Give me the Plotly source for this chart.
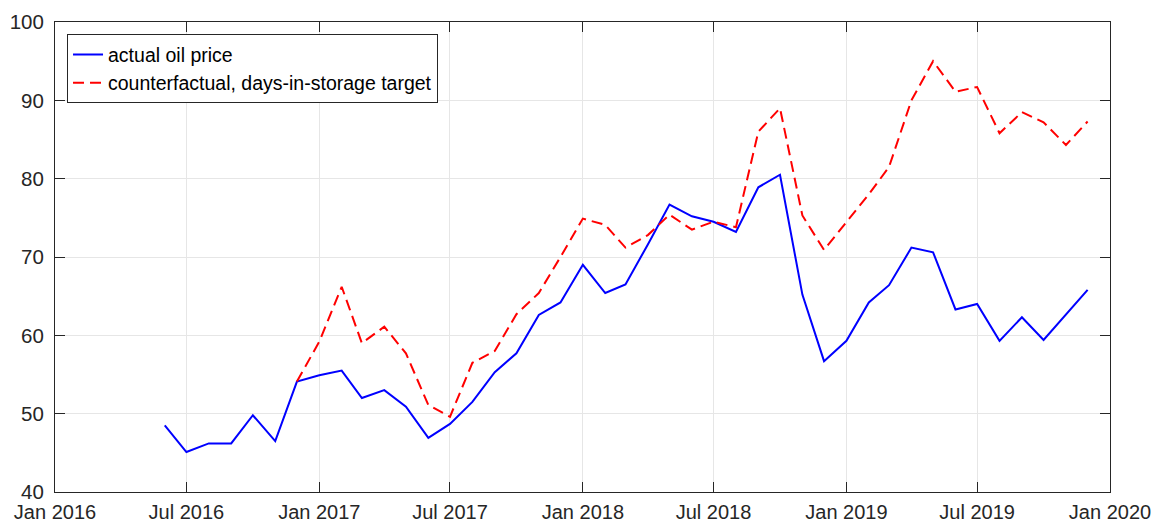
import plotly.graph_objects as go
import pandas as pd

actual_dates = pd.date_range("2016-06-01", "2019-12-01", freq="MS")
actual_price = [48.5, 45.1, 46.2, 46.2, 49.8, 46.5, 54.1,
                54.9, 55.5, 52.0, 53.0, 50.9, 46.9, 48.7, 51.5, 55.3, 57.7, 62.6, 64.2,
                69.0, 65.4, 66.5, 71.6, 76.7, 75.2, 74.5, 73.2, 78.9, 80.5, 65.2, 56.7,
                59.3, 64.2, 66.4, 71.2, 70.6, 63.3, 64.0, 59.3, 62.3, 59.4, 62.6, 65.8]

cf_dates = pd.date_range("2016-12-01", "2019-12-01", freq="MS")
cf_price = [54.1,
            59.2, 66.2, 59.0, 61.1, 57.7, 51.1, 49.6, 56.5, 58.0, 62.7, 65.4, 70.0,
            74.9, 74.1, 71.2, 72.8, 75.4, 73.5, 74.5, 73.8, 86.0, 89.0, 75.3, 70.9,
            74.5, 78.0, 81.5, 90.0, 95.0, 91.1, 91.7, 85.8, 88.5, 87.2, 84.3, 87.3]

tick_vals = pd.date_range("2016-01-01", "2020-01-01", freq="6MS")
tick_text = [d.strftime("%b %Y") for d in tick_vals]

FONT = "Liberation Sans, Arial, Helvetica, sans-serif"

fig = go.Figure()
fig.add_trace(go.Scatter(x=actual_dates, y=actual_price, mode="lines",
                         name="actual oil price",
                         line=dict(color="#0000ff", width=2)))
fig.add_trace(go.Scatter(x=cf_dates, y=cf_price, mode="lines",
                         name="counterfactual, days-in-storage target",
                         line=dict(color="#ff0000", width=2, dash="11px,6px")))

axis_common = dict(showline=True, linecolor="#262626", linewidth=1, mirror="ticks",
                   ticks="inside", ticklen=10, tickcolor="#262626",
                   showgrid=True, gridcolor="#e6e6e6", gridwidth=1, zeroline=False,
                   automargin=False)

fig.update_xaxes(range=["2016-01-01", "2020-01-01"], tickvals=tick_vals, ticktext=tick_text,
                 ticklabelstandoff=2,
                 tickfont=dict(family=FONT, size=20, color="#262626"), **axis_common)
fig.update_yaxes(range=[40, 100], tickvals=[40, 50, 60, 70, 80, 90, 100],
                 ticklabelstandoff=6,
                 tickfont=dict(family=FONT, size=20.5, color="#262626"), **axis_common)

fig.update_layout(
    template="none",
    width=1158, height=524,
    margin=dict(l=55, r=48, t=22, b=32),
    plot_bgcolor="white", paper_bgcolor="white",
    font=dict(family=FONT, size=20, color="#262626"),
    legend=dict(x=0.0114, y=0.974, xanchor="left", yanchor="top",
                bgcolor="white", bordercolor="#262626", borderwidth=1,
                font=dict(family=FONT, size=19.5, color="#000000"), tracegroupgap=0,
                itemwidth=30),
    showlegend=True,
)

fig.write_html("out.html", config={"displayModeBar": False},
               post_script="document.body.style.margin='0px';document.body.style.padding='0px';")
